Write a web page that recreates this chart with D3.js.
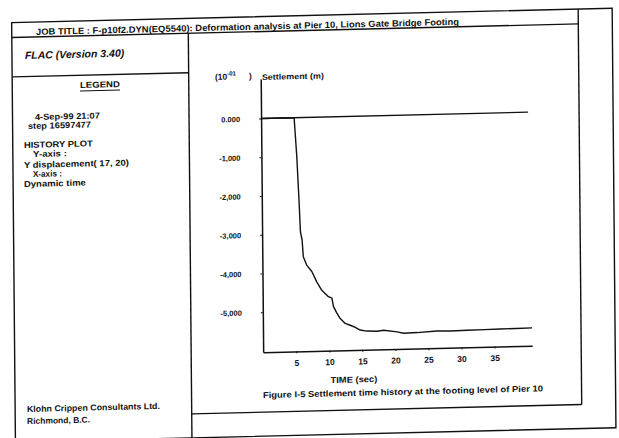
<!DOCTYPE html>
<html><head><meta charset="utf-8">
<script src="https://cdn.jsdelivr.net/npm/d3@7"></script>
<style>
body{margin:0;background:#fff}
svg{display:block}
text{font-family:"Liberation Sans",Arial,sans-serif;font-weight:bold;fill:#111}
</style>
</head><body>
<svg id="chart" width="619" height="438"></svg>
<script>
// ---- data ----
const timeSec = [0, 5.0, 5.35, 5.62, 5.8, 6.04, 6.2, 6.7, 7.47, 8.2, 8.95, 9.95, 10.47, 10.7, 11.2, 11.7, 12.45, 13.2, 13.97, 14.7, 15.7, 17.3, 18.25, 20.3, 21.3, 23.3, 26.3, 28.35, 30.9, 33.5, 35.9, 38.3, 40.7];
const settlement = [0, 0, -1.0, -2.1, -2.95, -3.16, -3.59, -3.81, -3.98, -4.25, -4.47, -4.64, -4.68, -4.90, -5.07, -5.21, -5.34, -5.39, -5.45, -5.52, -5.55, -5.56, -5.54, -5.59, -5.63, -5.62, -5.59, -5.60, -5.59, -5.585, -5.58, -5.575, -5.57];
const zeroLineTime = [0, 40.4];
const zeroLineValue = [0, 0];
const yTickValues = [0, -1, -2, -3, -4, -5];
const yTickLabels = ["0.000", "-1,000", "-2,000", "-3,000", "-4,000", "-5,000"];
const xTickValues = [5, 10, 15, 20, 25, 30, 35];
const xTickLabels = ["5", "10", "15", "20", "25", "30", "35"];
const jobTitle = "JOB TITLE :  F-p10f2.DYN(EQ5540): Deformation analysis at Pier 10, Lions Gate Bridge Footing";
const programName = "FLAC (Version 3.40)";
const legendTitle = "LEGEND";
const legendLines = ["4-Sep-99  21:07", "step  16597477", "HISTORY PLOT", "Y-axis :", "Y displacement( 17, 20)", "X-axis :", "Dynamic time"];
const companyLines = ["Klohn Crippen Consultants Ltd.", "Richmond, B.C."];
const yUnitText = ["(10", "-01", ")"];
const yAxisTitle = "Settlement (m)";
const xAxisTitle = "TIME (sec)";
const caption = "Figure I-5  Settlement time history at the footing level of Pier 10";

// ---- drawing ----
const svg = d3.select("#chart");
// slight skew of the scanned page
const a = 0.009, b = -0.024;
const root = svg.append("g")
  .attr("transform", `matrix(1,${b},${a},1,${-a*220},${-b*310})`);

const frame = root.append("g").attr("fill", "none").attr("stroke", "#111").attr("stroke-width", 1.4);
const L = 13.5, T = 15.5, R = 614, B = 435, titleB = 30.4, innerR = 580, divX = 190, flacB = 69.8, innerB = 411;
frame.append("rect").attr("x", L).attr("y", T).attr("width", R - L).attr("height", B - T);
frame.append("line").attr("x1", L).attr("x2", innerR).attr("y1", titleB).attr("y2", titleB);
frame.append("line").attr("x1", innerR).attr("x2", innerR).attr("y1", T).attr("y2", innerB);
frame.append("line").attr("x1", divX).attr("x2", divX).attr("y1", titleB).attr("y2", B);
frame.append("line").attr("x1", L).attr("x2", divX).attr("y1", flacB).attr("y2", flacB);
frame.append("line").attr("x1", divX).attr("x2", innerR).attr("y1", innerB).attr("y2", innerB);

// header
root.append("text").attr("x", 37.7).attr("y", 28.4).attr("font-size", 9)
  .attr("textLength", 423).attr("lengthAdjust", "spacingAndGlyphs").text(jobTitle);
root.append("text").attr("x", 26.4).attr("y", 52.2).attr("font-size", 10.5)
  .attr("font-style", "italic").text(programName);

// legend panel
root.append("text").attr("x", 81.2).attr("y", 82.5).attr("font-size", 8.5)
  .attr("textLength", 40).attr("lengthAdjust", "spacingAndGlyphs").text(legendTitle);
frame.append("line").attr("x1", 81.2).attr("x2", 121.2).attr("y1", 85.5).attr("y2", 85.5).attr("stroke-width", 1);
const legendX = [35.9, 28.8, 24.6, 33.6, 24.5, 33.4, 24.3];
const legendY = [113.4, 122.2, 141.1, 150.4, 161.1, 170.4, 180.1];
const legendW = [65, 63, 69, 34, 105, 29, 62];
root.append("g").selectAll("text").data(legendLines).join("text")
  .attr("x", (d, i) => legendX[i]).attr("y", (d, i) => legendY[i])
  .attr("font-size", 8.5).attr("textLength", (d, i) => legendW[i]).attr("lengthAdjust", "spacingAndGlyphs")
  .text(d => d);
const compY = [405.2, 417.2], compW = [133, 63];
root.append("g").selectAll("text").data(companyLines).join("text")
  .attr("x", 25.3).attr("y", (d, i) => compY[i])
  .attr("font-size", 8.5).attr("textLength", (d, i) => compW[i]).attr("lengthAdjust", "spacingAndGlyphs")
  .text(d => d);

// plot
const x = d3.scaleLinear().domain([0, 40.7]).range([262, 531]);
const y = d3.scaleLinear().domain([-6.03, 1.02]).range([351, 77.9]);

const yAxis = root.append("g").attr("transform", `translate(${x(0)},0)`)
  .call(d3.axisLeft(y).tickValues(yTickValues).tickFormat((d, i) => yTickLabels[i])
    .tickSizeInner(2).tickSizeOuter(0).tickPadding(19));
const xAxis = root.append("g").attr("transform", `translate(0,${y.range()[0]})`)
  .call(d3.axisBottom(x).tickValues(xTickValues).tickFormat((d, i) => xTickLabels[i])
    .tickSizeInner(2).tickSizeOuter(0).tickPadding(6.5));
[yAxis, xAxis].forEach(g => {
  g.select(".domain").attr("stroke", "#111").attr("stroke-width", 1.5);
  g.selectAll(".tick line").attr("stroke", "#111").attr("stroke-width", 1);
  g.selectAll("text").attr("fill", "#111").attr("font-family", "'Liberation Sans',Arial,sans-serif").attr("font-weight", "bold");
});
yAxis.selectAll("text").attr("font-size", 7.5);
xAxis.selectAll("text").attr("font-size", 8.5);

const line = d3.line().x(d => x(d[0])).y(d => y(d[1]));
root.append("path").datum(d3.zip(zeroLineTime, zeroLineValue))
  .attr("d", line).attr("fill", "none").attr("stroke", "#111").attr("stroke-width", 1.4);
root.append("path").datum(d3.zip(timeSec, settlement))
  .attr("d", line).attr("fill", "none").attr("stroke", "#111").attr("stroke-width", 1.4)
  .attr("stroke-linejoin", "round");

// axis titles
const unit = root.append("text").attr("x", 216.3).attr("y", 77.7).attr("font-size", 8.5);
unit.append("tspan").text(yUnitText[0]);
unit.append("tspan").attr("font-size", 6).attr("dy", -4).text(yUnitText[1]);
unit.append("tspan").attr("x", 250.3).attr("dy", 4).text(yUnitText[2]);
root.append("text").attr("x", 263.2).attr("y", 78.8).attr("font-size", 8)
  .attr("textLength", 62).attr("lengthAdjust", "spacingAndGlyphs").text(yAxisTitle);
root.append("text").attr("x", 329).attr("y", 383.5).attr("font-size", 8.5)
  .attr("textLength", 47).attr("lengthAdjust", "spacingAndGlyphs").text(xAxisTitle);
root.append("text").attr("x", 261.4).attr("y", 396.9).attr("font-size", 8.5)
  .attr("textLength", 280).attr("lengthAdjust", "spacingAndGlyphs").text(caption);
</script>
</body></html>
